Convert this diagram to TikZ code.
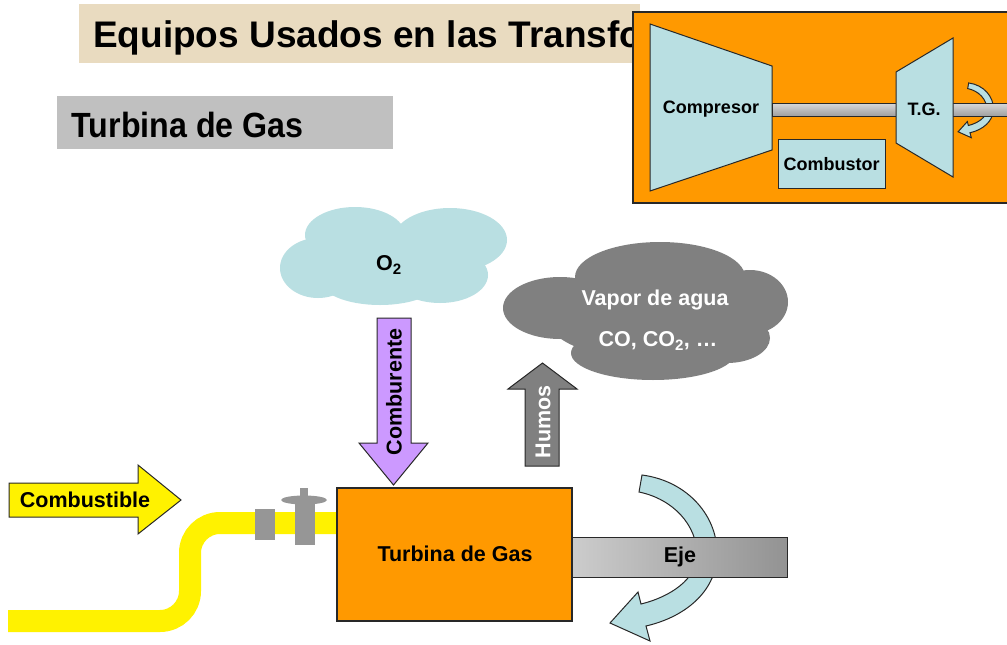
\documentclass[tikz,border=0pt]{standalone}
\usepackage{fontspec}
\setmainfont{Liberation Sans}
\definecolor{orangeF}{RGB}{255,153,0}
\definecolor{paleblue}{RGB}{185,223,226}
\definecolor{lilac}{RGB}{204,153,255}
\definecolor{smoke}{RGB}{128,128,128}
\definecolor{valvegray}{RGB}{150,150,150}
\definecolor{labelgray}{RGB}{192,192,192}
\definecolor{banner}{RGB}{233,219,192}
\definecolor{edge}{RGB}{40,40,40}
\tikzset{
  txt/.style={font=\fontsize{21.5}{24}\selectfont\bfseries, inner sep=0pt},
  smalltxt/.style={font=\fontsize{18}{20}\selectfont\bfseries, inner sep=0pt},
  outline/.style={draw=edge, line width=1pt},
  spinarrow/.pic={
    \draw[outline, fill=paleblue]
      (2,-82) .. controls (48,-76) and (79,-40) .. (77,0)
      .. controls (75,35) and (45,60) .. (6,69)
      -- (10,84) -- (-30,66) -- (-2,35) -- (1,47)
      .. controls (30,40) and (57,22) .. (57,-2)
      .. controls (57,-32) and (33,-58) .. (-1,-65) -- cycle;
  }
}
\begin{document}
\begin{tikzpicture}[x=1pt,y=-1pt]
\clip (0,0) rectangle (1007,645);
\fill[white] (0,0) rectangle (1007,645);

% heading banner
\fill[banner] (79,4) rectangle (640,63);
\node[anchor=base west, inner sep=0pt, font=\fontsize{37}{40}\selectfont\bfseries] (title) at (93,47) {Equipos Usados en las Transfo};

% section label
\fill[labelgray] (57,96) rectangle (393,149);
\node[anchor=base west, inner sep=0pt, xscale=0.92, font=\fontsize{35}{38}\selectfont\bfseries] (section) at (71.5,137) {Turbina de Gas};

% schematic of the gas turbine
\draw[draw=edge, line width=1.5pt, fill=orangeF] (633,12) rectangle (1015,203);
\draw[outline, fill=paleblue] (650,24) -- (772,66) -- (772,150) -- (650,191) -- cycle;
\node[smalltxt] (compresor) at (711,109) {Compresor};
\pic[scale=0.33] at (968,110) {spinarrow};
\draw[outline, top color=gray!30, bottom color=gray!75] (772,103) rectangle (1015,116);
\draw[outline, fill=paleblue] (896,72) -- (953,38) -- (953,177) -- (896,143) -- cycle;
\node[smalltxt] (tg) at (924,109) {T.G.};
\draw[outline, fill=paleblue] (778,139) rectangle (885,188);
\node[smalltxt] (combustor) at (831.5,164) {Combustor};

% oxygen cloud
\begin{scope}[paleblue]
  \fill (318,268) ellipse [x radius=38pt, y radius=30pt];
  \fill (355,235) ellipse [x radius=50pt, y radius=28pt];
  \fill (450,240) ellipse [x radius=57pt, y radius=32pt];
  \fill (380,280) ellipse [x radius=60pt, y radius=25pt];
  \fill (440,275) ellipse [x radius=48pt, y radius=28pt];
  \fill (395,258) ellipse [x radius=70pt, y radius=30pt];
\end{scope}
\node[txt] (o2) at (389,265) {O\textsubscript{2}};

% exhaust cloud
\begin{scope}[smoke]
  \fill (660,277) ellipse [x radius=85pt, y radius=35pt];
  \fill (750,302) ellipse [x radius=38pt, y radius=32pt];
  \fill (560,308) ellipse [x radius=57pt, y radius=31pt];
  \fill (653,353) ellipse [x radius=82pt, y radius=27pt];
  \fill (727,338) ellipse [x radius=43pt, y radius=25pt];
  \fill (650,315) ellipse [x radius=105pt, y radius=45pt];
\end{scope}
\node[txt, text=white] (vapor) at (655,300) {Vapor de agua};
\node[txt, text=white] (gases) at (658,341) {CO, CO\textsubscript{2}, …};

% oxidiser flow
\draw[outline, fill=lilac] (377,318) -- (411,318) -- (411,443) -- (428,443) -- (393.5,485) -- (359,443) -- (377,443) -- cycle;
\node[txt, rotate=90] (comburente) at (394,392) {Comburente};

% flue gas flow
\draw[outline, fill=smoke] (525,466) -- (525,389) -- (508,389) -- (542.5,363) -- (577,389) -- (559,389) -- (559,466) -- cycle;
\node[txt, rotate=90, text=white] (humos) at (543,422) {Humos};

% fuel flow
\draw[outline, fill=yellow] (9,483) -- (138,483) -- (138,465) -- (181,500) -- (138,534) -- (138,517) -- (9,517) -- cycle;
\node[txt] (combustible) at (85,500) {Combustible};

% fuel pipe and valves
\draw[yellow, line width=22pt, rounded corners=30pt] (8,621) -- (190,621) -- (190,523) -- (338,523);
\fill[valvegray] (255,509) rectangle (275,540);
\fill[valvegray] (300,488) rectangle (308,500);
\fill[valvegray] (304,500) ellipse [x radius=23pt, y radius=4.5pt];
\fill[valvegray] (295,502) rectangle (315,545);

% turbine block and output shaft
\draw[draw=edge, line width=1.5pt, fill=orangeF] (337,488) rectangle (572,621);
\node[txt] (turbina) at (455,554) {Turbina de Gas};
\pic at (640,557) {spinarrow};
\draw[outline, left color=gray!40, right color=gray!85] (572,537) rectangle (787,577);
\node[txt] (eje) at (680,557) {Eje};
\end{tikzpicture}
\end{document}
